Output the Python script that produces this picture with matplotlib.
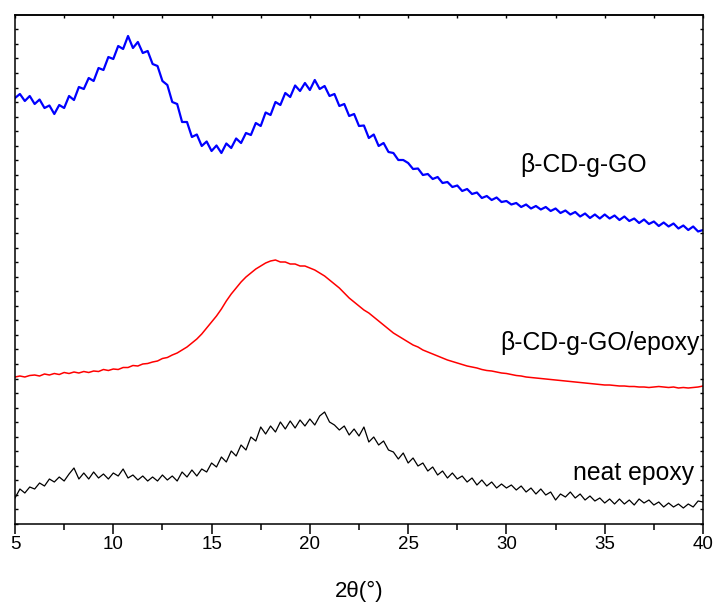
import matplotlib
matplotlib.use("Agg")
import matplotlib.pyplot as plt
from matplotlib.ticker import MultipleLocator, NullFormatter

plt.rcParams['font.family'] = ['Liberation Sans', 'DejaVu Sans']

# 2theta scan positions (degrees), 0.25 deg steps
two_theta = [
    5.0, 5.25, 5.5, 5.75, 6.0, 6.25, 6.5, 6.75, 7.0, 7.25, 7.5, 7.75,
    8.0, 8.25, 8.5, 8.75, 9.0, 9.25, 9.5, 9.75, 10.0, 10.25, 10.5, 10.75,
    11.0, 11.25, 11.5, 11.75, 12.0, 12.25, 12.5, 12.75, 13.0, 13.25, 13.5, 13.75,
    14.0, 14.25, 14.5, 14.75, 15.0, 15.25, 15.5, 15.75, 16.0, 16.25, 16.5, 16.75,
    17.0, 17.25, 17.5, 17.75, 18.0, 18.25, 18.5, 18.75, 19.0, 19.25, 19.5, 19.75,
    20.0, 20.25, 20.5, 20.75, 21.0, 21.25, 21.5, 21.75, 22.0, 22.25, 22.5, 22.75,
    23.0, 23.25, 23.5, 23.75, 24.0, 24.25, 24.5, 24.75, 25.0, 25.25, 25.5, 25.75,
    26.0, 26.25, 26.5, 26.75, 27.0, 27.25, 27.5, 27.75, 28.0, 28.25, 28.5, 28.75,
    29.0, 29.25, 29.5, 29.75, 30.0, 30.25, 30.5, 30.75, 31.0, 31.25, 31.5, 31.75,
    32.0, 32.25, 32.5, 32.75, 33.0, 33.25, 33.5, 33.75, 34.0, 34.25, 34.5, 34.75,
    35.0, 35.25, 35.5, 35.75, 36.0, 36.25, 36.5, 36.75, 37.0, 37.25, 37.5, 37.75,
    38.0, 38.25, 38.5, 38.75, 39.0, 39.25, 39.5, 39.75, 40.0,
]

# Intensities (a.u., stacked offsets included)
beta_cd_g_go = [
    426, 430, 423, 428,  420, 424.5, 416, 418.5,  410, 419, 416, 428,
    424, 437, 435, 446,  443, 456, 454, 467,  465, 478, 475, 488,
    476, 482, 471, 473,  460, 458, 443, 439,  422, 420, 402, 402,
    387, 389.5, 378, 382.5,  373, 378.5, 371, 380.5,  376, 385.5, 381, 391,
    389, 401, 398, 411.5,  409, 422, 419, 431,  427, 438.5, 433, 441,
    434, 444, 435, 438,  428, 430, 418, 420,  408, 410, 398, 398.5,
    386, 389.5, 378, 381,  372, 371, 364, 364,  361, 355, 355.5, 349,
    350, 345, 347, 341,  342, 337, 338.5, 333,  335, 330, 331.5, 326,
    328, 324, 326.5, 322,  323, 319.5, 321, 317,  319.5, 315.5, 318, 314.5,
    317, 313, 315.5, 311,  313.5, 309.5, 312, 307.5,  310.5, 306, 309.5, 305.5,
    309.5, 305.5, 308.5, 304,  307.5, 303, 305.5, 301,  304.5, 300, 302.5, 298,
    301.5, 297.5, 300.5, 295.5,  298.5, 294, 297.5, 292.5,  294,
]

beta_cd_g_go_epoxy = [
    147, 148, 147, 148.5,  149, 148, 150, 149,  150.5, 149.5, 151.5, 150.5,
    152, 151, 152.5, 151.5,  153, 152.5, 154.5, 153.5,  155, 154.5, 156.5, 156.5,
    158.5, 158, 160, 160.5,  162, 163, 165.5, 166.5,  169, 171, 174, 177,
    181, 185, 190, 196,  202, 208, 215, 223,  230, 236, 242, 247,
    251, 255, 258, 261,  263, 264, 262, 262,  260, 260, 258, 258,
    256, 254, 251, 248,  244, 240, 236, 231,  226, 222, 218, 214,
    211, 207, 203, 199,  195, 191, 188, 185,  182, 179, 177, 174,
    172, 170, 168, 166,  164, 162.5, 161, 159.5,  158, 157, 156, 154.5,
    153.5, 153, 152, 151,  150.5, 149.5, 148.5, 148,  147, 146.5, 146, 145.5,
    145, 144.5, 144, 143.5,  143, 142.5, 142, 141.5,  141, 140.5, 140, 139.5,
    139, 139, 138.5, 138,  138, 137.5, 137.5, 137,  137, 136.5, 137, 137.5,
    137, 136.5, 137, 136,  136.5, 136, 136.5, 137,  138,
]

neat_epoxy = [
    26, 35, 31, 37,  35, 41, 38, 45,  42, 47, 43, 50,
    56, 45, 51, 45,  52, 46, 50, 45,  51, 48, 55, 46,
    49, 44, 48, 43,  47, 43, 49, 44,  48, 43, 52, 47,
    54, 48, 55, 52,  61, 57, 67, 62,  73, 68, 79, 74,
    87, 83, 97, 90,  98, 92, 102, 95,  103, 96, 104, 98,
    105, 99, 108, 112,  102, 99, 94, 98,  89, 95, 88, 97,
    82, 87, 79, 83,  74, 72, 65, 71,  61, 66, 58, 61,
    53, 57, 49, 53,  46, 51, 45, 48,  42, 46, 39, 44,
    38, 42, 36, 40,  36, 39, 34, 38,  32, 36, 30, 35,
    29, 32, 24, 30,  27, 32, 26, 30,  24, 28, 23, 26,
    21, 25, 20, 25,  20, 24, 19, 25,  21, 24, 19, 22,
    17, 21, 17, 20,  16, 20, 17, 23,  22,
]

labels = ["β-CD-g-GO", "β-CD-g-GO/epoxy", "neat epoxy"]
x_ticks = [5, 10, 15, 20, 25, 30, 35, 40]

fig = plt.figure(figsize=(7.15, 6.04), dpi=100)
ax = fig.add_axes([15/715, 1-524/604, (703-15)/715, (524-15)/604])

ax.plot(two_theta, beta_cd_g_go, color='#0000FF', lw=1.6)
ax.plot(two_theta, beta_cd_g_go_epoxy, color='#FF0000', lw=1.1)
ax.plot(two_theta, neat_epoxy, color='black', lw=0.9)

ax.set_xlim(5, 40)
ax.set_ylim(0, 509)

for s in ax.spines.values():
    s.set_linewidth(1.1)

ax.set_xticks(x_ticks)
ax.set_xticklabels([str(t) for t in x_ticks])
ax.xaxis.set_minor_locator(MultipleLocator(2.5))
ax.tick_params(axis='x', which='major', direction='out', length=7, width=1.1,
               labelsize=13.5, pad=1.5, top=False)
ax.tick_params(axis='x', which='minor', direction='out', length=4.5, width=1.1, top=False)

ax.yaxis.set_major_locator(MultipleLocator(14.55))
ax.yaxis.set_major_formatter(NullFormatter())
ax.tick_params(axis='y', which='both', direction='in', length=2.5, width=1.0,
               left=True, right=True, labelleft=False)

secx = ax.secondary_xaxis('top')
secx.set_xticks([5, 7.5, 10, 12.5, 15, 17.5, 20, 22.5, 25, 27.5, 30, 32.5, 35, 37.5, 40])
secx.tick_params(direction='in', length=2.5, width=1.0, labeltop=False)
secx.spines['top'].set_linewidth(1.1)

ax.set_xlabel("2θ(°)", fontsize=16, labelpad=20)

ax.text(30.69, 359, labels[0], fontsize=17.8, va='center', ha='left')
ax.text(29.67, 181, labels[1], fontsize=17.8, va='center', ha='left', clip_on=False)
ax.text(33.38, 51, labels[2], fontsize=17.8, va='center', ha='left')

fig.savefig("out.png", dpi=100)
